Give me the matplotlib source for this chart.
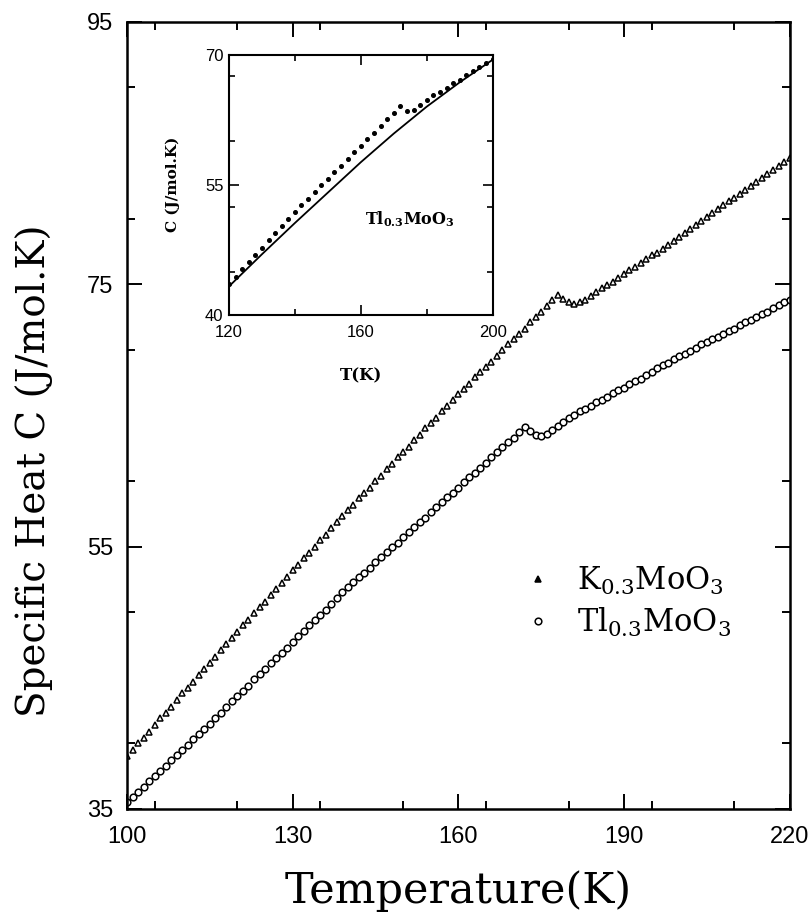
import numpy as np
import matplotlib
matplotlib.use('Agg')
import matplotlib.pyplot as plt
from matplotlib.ticker import MultipleLocator

plt.rcParams['mathtext.fontset'] = 'dejavuserif'

# Temperature grid of the measurements (K)
temps = list(range(100, 221))

# K0.3MoO3 specific heat (J/mol.K) at 1 K steps
c_k = [39.0, 39.5, 40.0, 40.4, 40.9, 41.4, 41.9, 42.3, 42.8, 43.3,
       43.8, 44.2, 44.7, 45.2, 45.7, 46.1, 46.6, 47.1, 47.6, 48.0,
       48.5, 49.0, 49.4, 49.9, 50.4, 50.8, 51.3, 51.8, 52.2, 52.7,
       53.2, 53.6, 54.1, 54.5, 55.0, 55.5, 55.9, 56.4, 56.9, 57.3,
       57.8, 58.2, 58.7, 59.1, 59.5, 60.0, 60.4, 60.9, 61.3, 61.8,
       62.2, 62.6, 63.1, 63.5, 64.0, 64.4, 64.8, 65.3, 65.7, 66.2,
       66.6, 67.0, 67.4, 67.9, 68.3, 68.7, 69.1, 69.5, 70.0, 70.4,
       70.8, 71.2, 71.6, 72.1, 72.5, 72.9, 73.3, 73.8, 74.2, 73.9,
       73.6, 73.5, 73.6, 73.8, 74.1, 74.4, 74.7, 74.9, 75.2, 75.5,
       75.8, 76.1, 76.3, 76.6, 76.9, 77.2, 77.4, 77.7, 78.0, 78.3,
       78.6, 78.9, 79.2, 79.5, 79.8, 80.1, 80.4, 80.7, 81.0, 81.3,
       81.6, 81.9, 82.2, 82.5, 82.8, 83.1, 83.4, 83.7, 84.0, 84.3,
       84.6]

# Tl0.3MoO3 specific heat (J/mol.K)
c_tl = [35.5, 35.9, 36.3, 36.7, 37.1, 37.5, 37.9, 38.3, 38.7, 39.1,
        39.5, 39.9, 40.3, 40.7, 41.1, 41.5, 41.9, 42.3, 42.8, 43.2,
        43.6, 44.0, 44.4, 44.9, 45.3, 45.7, 46.1, 46.5, 46.9, 47.3,
        47.7, 48.2, 48.6, 49.0, 49.4, 49.8, 50.2, 50.6, 51.1, 51.5,
        51.9, 52.3, 52.7, 53.0, 53.4, 53.8, 54.2, 54.6, 55.0, 55.3,
        55.7, 56.1, 56.5, 56.9, 57.2, 57.6, 58.0, 58.4, 58.8, 59.1,
        59.5, 59.9, 60.3, 60.6, 61.0, 61.4, 61.8, 62.2, 62.6, 63.0,
        63.3, 63.7, 64.1, 63.8, 63.5, 63.4, 63.6, 63.9, 64.2, 64.5,
        64.8, 65.0, 65.3, 65.5, 65.7, 66.0, 66.2, 66.4, 66.7, 66.9,
        67.1, 67.4, 67.6, 67.8, 68.1, 68.3, 68.6, 68.8, 69.0, 69.3,
        69.5, 69.7, 69.9, 70.1, 70.4, 70.6, 70.8, 71.0, 71.2, 71.4,
        71.6, 71.9, 72.1, 72.3, 72.5, 72.7, 72.9, 73.2, 73.4, 73.6,
        73.8]

# lattice (fit) curve shown in the inset
fit_t = [120, 130, 140, 150, 160, 170, 180, 190, 200]
fit_c = [43.3, 47.0, 50.6, 54.1, 57.6, 60.9, 64.0, 66.8, 69.4]

SERIF = 'DejaVu Serif'
SANS = 'Liberation Sans'

fig = plt.figure(figsize=(8.09, 9.24), dpi=100)
ax = fig.add_axes([0.157, 0.1245, 0.819, 0.852])

ax.plot(temps, c_k, linestyle='none', marker='^', ms=4.8, mfc='white',
        mec='black', mew=1.1, label=r'K$_{0.3}$MoO$_3$')
ax.plot(temps, c_tl, linestyle='none', marker='o', ms=4.8, mfc='white',
        mec='black', mew=1.1, label=r'Tl$_{0.3}$MoO$_3$')

ax.set_xlim(100, 220)
ax.set_ylim(35, 95)
ax.set_xticks([100, 130, 160, 190, 220])
ax.set_yticks([35, 55, 75, 95])
ax.xaxis.set_minor_locator(MultipleLocator(15))
ax.yaxis.set_minor_locator(MultipleLocator(10))
ax.tick_params(which='both', direction='in', top=True, right=True, width=1.4)
ax.tick_params(which='major', length=11)
ax.tick_params(which='minor', length=6)
ax.tick_params(axis='x', pad=12)
ax.tick_params(axis='y', pad=10)
for lab in ax.get_xticklabels() + ax.get_yticklabels():
    lab.set_fontfamily(SANS)
    lab.set_fontsize(17)
for sp in ax.spines.values():
    sp.set_linewidth(1.8)

ax.set_xlabel('Temperature(K)', fontfamily=SERIF, fontsize=31, labelpad=16)
ax.set_ylabel('Specific Heat C (J/mol.K)', fontfamily=SERIF, fontsize=28)
ax.yaxis.set_label_coords(-0.112, 0.43)

# legend with the two symbols
leg = ax.legend(loc='upper left', bbox_to_anchor=(0.56, 0.345), frameon=False,
                prop={'family': SERIF, 'size': 22}, handlelength=0.8,
                handletextpad=0.9, labelspacing=0.3)
leg.legend_handles[0].set_markerfacecolor('black')

# inset
ins = fig.add_axes([0.283, 0.659, 0.326, 0.282])
ins.plot(temps[20:101:2], c_tl[20:101:2], linestyle='none', marker='o',
         ms=2.6, color='black')
ins.plot(fit_t, fit_c, color='black', lw=1.3)
ins.set_xlim(120, 200)
ins.set_ylim(40, 70)
ins.set_xticks([120, 160, 200])
ins.set_yticks([40, 55, 70])
ins.xaxis.set_minor_locator(MultipleLocator(20))
ins.yaxis.set_minor_locator(MultipleLocator(7.5))
ins.tick_params(which='both', direction='in', top=True, right=True, width=1.2)
ins.tick_params(which='major', length=7)
ins.tick_params(which='minor', length=4)
ins.tick_params(axis='x', pad=7)
ins.tick_params(axis='y', pad=4)
for lab in ins.get_xticklabels() + ins.get_yticklabels():
    lab.set_fontfamily(SANS)
    lab.set_fontsize(12)
for sp in ins.spines.values():
    sp.set_linewidth(1.5)
ins.set_xlabel('T(K)', fontfamily=SERIF, fontweight='bold', fontsize=12,
               labelpad=20)
ins.set_ylabel('C (J/mol.K)', fontfamily=SERIF, fontweight='bold',
               fontsize=11, labelpad=18)
ins.text(0.515, 0.37, r'$\mathbf{Tl_{0.3}MoO_3}$', transform=ins.transAxes,
         fontsize=11.5, va='center')

fig.savefig('out.png', dpi=100)
